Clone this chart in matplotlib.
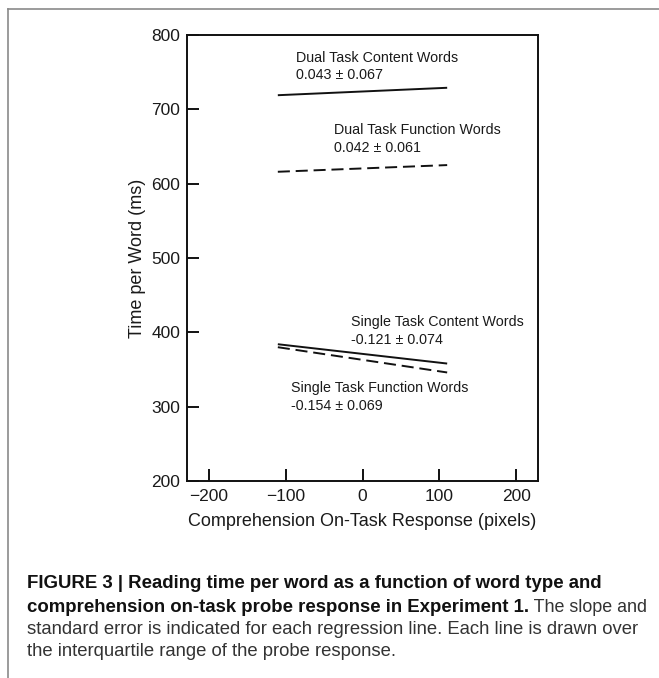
import matplotlib
matplotlib.use("Agg")
import matplotlib.pyplot as plt
from matplotlib.lines import Line2D

plt.rcParams['font.family'] = ['Liberation Sans', 'DejaVu Sans']

# Data: regression lines over interquartile range of probe response
x_range = [-110, 110]
series_names = ["Dual Task Content Words", "Dual Task Function Words",
                "Single Task Content Words", "Single Task Function Words"]
series_start = [719, 616, 384, 380]
series_end = [729, 625, 358, 346]
series_slope = ["0.043 \u00b1 0.067", "0.042 \u00b1 0.061",
                "-0.121 \u00b1 0.074", "-0.154 \u00b1 0.069"]
series_dashed = [False, True, False, True]
label_pos = [(-87, 779), (-37, 681), (-15, 423), (-93, 334)]

x_ticks = [-200, -100, 0, 100, 200]
x_ticklabels = ["\u2212200", "\u2212100", "0", "100", "200"]
y_ticks = [200, 300, 400, 500, 600, 700, 800]

W, H = 659, 678
fig = plt.figure(figsize=(W / 100, H / 100), dpi=100)
ax = fig.add_axes([187 / W, 1 - 481 / H, (538 - 187) / W, (481 - 35) / H])

for name, y0, y1, sl, dashed, (tx, ty) in zip(series_names, series_start, series_end,
                                               series_slope, series_dashed, label_pos):
    ln, = ax.plot(x_range, [y0, y1], color='#111111', lw=1.4, solid_capstyle='butt')
    if dashed:
        ln.set_dashes((6.2, 3.0))
    ax.text(tx, ty, name + "\n" + sl, fontsize=10.3, color='#1a1a1a',
            ha='left', va='top', linespacing=1.32)

ax.set_xlim(-228, 228)
ax.set_ylim(200, 800)
ax.set_xticks(x_ticks)
ax.set_xticklabels(x_ticklabels)
ax.set_yticks(y_ticks)
ax.tick_params(axis='both', direction='in', length=8.6, width=1.4,
               labelsize=12.5, color='#111111', labelcolor='#1a1a1a')
ax.tick_params(axis='x', pad=6)
ax.tick_params(axis='y', pad=5)
for s in ax.spines.values():
    s.set_linewidth(1.4)
    s.set_color('#111111')
ax.set_xlabel("Comprehension On-Task Response (pixels)", fontsize=13, color='#1a1a1a', labelpad=6)
ax.set_ylabel("Time per Word (ms)", fontsize=13, color='#1a1a1a', labelpad=4)

# Frame lines of the figure panel
fig.add_artist(Line2D([8 / W, 8 / W], [0, 1 - 9 / H], transform=fig.transFigure,
                      color='#8a8a8a', lw=1.2))
fig.add_artist(Line2D([8 / W, 1], [1 - 9 / H, 1 - 9 / H], transform=fig.transFigure,
                      color='#8a8a8a', lw=1.2))

# Caption
cap_x = 27 / W
bold_fs = 13.4
reg_fs = 13.3
line_y = [583, 607, 630, 652]
bold1 = "FIGURE 3 | Reading time per word as a function of word type and"
bold2 = "comprehension on-task probe response in Experiment 1."
reg2 = " The slope and"
reg3 = "standard error is indicated for each regression line. Each line is drawn over"
reg4 = "the interquartile range of the probe response."

fig.text(cap_x, 1 - line_y[0] / H, bold1, fontsize=bold_fs, fontweight='bold',
         color='#111111', va='center', ha='left')
t2 = fig.text(cap_x, 1 - line_y[1] / H, bold2, fontsize=bold_fs, fontweight='bold',
              color='#111111', va='center', ha='left')
fig.canvas.draw()
bb = t2.get_window_extent(renderer=fig.canvas.get_renderer())
fig.text(bb.x1 / W, 1 - line_y[1] / H, reg2, fontsize=reg_fs - 0.4, color='#333333',
         va='center', ha='left')
fig.text(cap_x, 1 - line_y[2] / H, reg3, fontsize=reg_fs, color='#333333',
         va='center', ha='left')
fig.text(cap_x, 1 - line_y[3] / H, reg4, fontsize=reg_fs, color='#333333',
         va='center', ha='left')

fig.savefig("out.png", dpi=100)
